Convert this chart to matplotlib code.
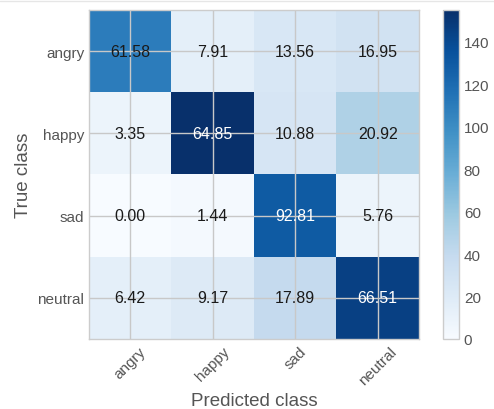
import numpy as np
import matplotlib.pyplot as plt
from matplotlib.lines import Line2D

plt.style.use('seaborn-v0_8-whitegrid')
plt.rcParams['font.family'] = ['Liberation Sans', 'DejaVu Sans']

classes = ['angry', 'happy', 'sad', 'neutral']

# confusion matrix counts (rows = true, cols = predicted)
cm = np.array([[109, 14, 24, 30],
               [8, 155, 26, 50],
               [0, 2, 129, 8],
               [14, 20, 39, 145]])

# row-normalised percentages shown in the cells
cm_pct = cm / cm.sum(axis=1, keepdims=True) * 100

fig = plt.figure(figsize=(4.94, 4.10), dpi=100)
ax = fig.add_axes([89/494, 1-340/410, 330/494, 329/410])
cax = fig.add_axes([443/494, 1-340/410, 16/494, 329/410])

im = ax.imshow(cm, interpolation='nearest', cmap=plt.cm.Blues, vmin=0, vmax=cm.max(), aspect='auto')
cb = fig.colorbar(im, cax=cax)
cb.set_ticks(np.arange(0, 141, 20))
cb.outline.set_edgecolor('#cccccc')
cb.ax.tick_params(labelsize=11, colors='#555555', length=0)

ticks = np.arange(len(classes))
ax.set_xticks(ticks)
ax.set_xticklabels(classes, rotation=45)
ax.set_yticks(ticks)
ax.set_yticklabels(classes)
ax.tick_params(labelsize=11, colors='#555555', length=0)

thresh = cm.max() * 0.75
for i in range(cm.shape[0]):
    for j in range(cm.shape[1]):
        ax.text(j, i, '%.2f' % cm_pct[i, j], ha='center', va='center', fontsize=11.5,
                color='white' if cm[i, j] > thresh else '#1a1a1a')

ax.grid(True, color='#c8c8c8', linewidth=1)
for s in ax.spines.values():
    s.set_edgecolor('#cccccc')

ax.set_ylabel('True class', fontsize=13.5, color='#555555')
ax.set_xlabel('Predicted class', fontsize=13.5, color='#555555')

# thin rule along the top edge
fig.add_artist(Line2D([0, 1], [0.996, 0.996], color='#e6e6e6', linewidth=1))

fig.savefig('out.png', dpi=100)
